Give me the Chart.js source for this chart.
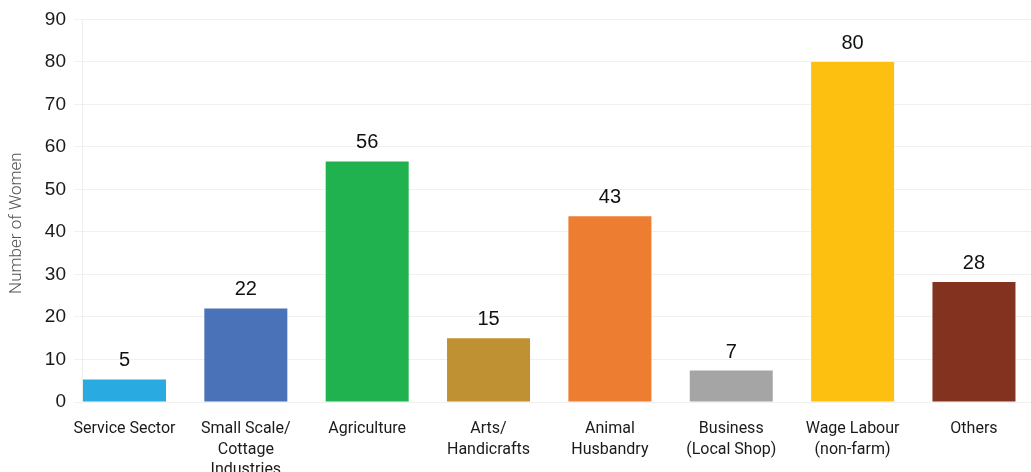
<!DOCTYPE html>
<html>
<head>
<meta charset="utf-8">
<script src="https://cdn.jsdelivr.net/npm/chart.js@4/dist/chart.umd.min.js"></script>
<style>
  html, body { margin: 0; padding: 0; background: #fff; }
  #wrap { width: 1031px; height: 472px; position: relative; }
</style>
</head>
<body>
<div id="wrap"><canvas id="chart"></canvas></div>
<script>
// categories (multi-line tick labels)
var categories = [
    ['Service Sector'],
    ['Small Scale/', 'Cottage', 'Industries'],
    ['Agriculture'],
    ['Arts/', 'Handicrafts'],
    ['Animal', 'Husbandry'],
    ['Business', '(Local Shop)'],
    ['Wage Labour', '(non-farm)'],
    ['Others']
];
// bar heights
var womenCount = [5.3, 22, 56.6, 15, 43.7, 7.4, 80, 28.2];
// numbers printed above the bars
var shownLabels = ['5', '22', '56', '15', '43', '7', '80', '28'];
var barColors = ['#29ABE2', '#4A72B8', '#1FB24E', '#C09132', '#ED7D31', '#A5A5A5', '#FDC010', '#833220'];
var yTicks = [0, 10, 20, 30, 40, 50, 60, 70, 80, 90];

const valueLabels = {
    id: 'valueLabels',
    afterDatasetsDraw(chart) {
        const ctx = chart.ctx;
        const meta = chart.getDatasetMeta(0);
        ctx.save();
        ctx.font = '20px "Liberation Sans", Arial, sans-serif';
        ctx.fillStyle = '#111';
        ctx.textAlign = 'center';
        ctx.textBaseline = 'alphabetic';
        meta.data.forEach((bar, i) => {
            ctx.fillText(shownLabels[i], bar.x, bar.y - 13);
        });
        ctx.restore();
    }
};

const ctx = document.getElementById('chart');
var chart = new Chart(ctx, {
    type: 'bar',
    data: {
        datasets: [{
            data: womenCount.map((v, i) => ({ x: i, y: v })),
            backgroundColor: barColors,
            borderWidth: 0,
            categoryPercentage: 1,
            barPercentage: 0.684
        }]
    },
    options: {
        responsive: true,
        maintainAspectRatio: false,
        animation: false,
        layout: { padding: { top: 12, right: 0, left: 0, bottom: 0 } },
        plugins: {
            legend: { display: false },
            tooltip: { enabled: false }
        },
        scales: {
            x: {
                type: 'linear',
                offset: false,
                min: -0.35,
                max: 7.47,
                grid: { display: false, offset: false },
                border: { display: false },
                ticks: {
                    stepSize: 1,
                    includeBounds: false,
                    autoSkip: false,
                    maxRotation: 0,
                    padding: 9,
                    color: '#1a1a1a',
                    font: { family: 'Roboto', size: 16, lineHeight: 1.28 },
                    callback: (value) => categories[value] || ''
                },
                afterFit: (scale) => { scale.height = 70; }
            },
            y: {
                min: 0,
                max: 90,
                grid: { color: '#f0f0f0', tickLength: 8 },
                border: { color: '#eeeeee' },
                afterBuildTicks: (scale) => { scale.ticks = yTicks.map(v => ({ value: v })); },
                ticks: {
                    padding: 8,
                    color: '#1a1a1a',
                    font: { family: '"Liberation Sans", Arial, sans-serif', size: 19 }
                },
                title: {
                    display: true,
                    text: 'Number of Women\u00A0\u00A0\u00A0\u00A0\u00A0\u00A0',
                    color: '#555',
                    padding: { top: 7, bottom: 0 },
                    font: { family: 'Roboto', size: 17, weight: '300' }
                },
                afterFit: (scale) => { scale.width = 82; }
            }
        }
    },
    plugins: [valueLabels]
});
</script>
</body>
</html>
